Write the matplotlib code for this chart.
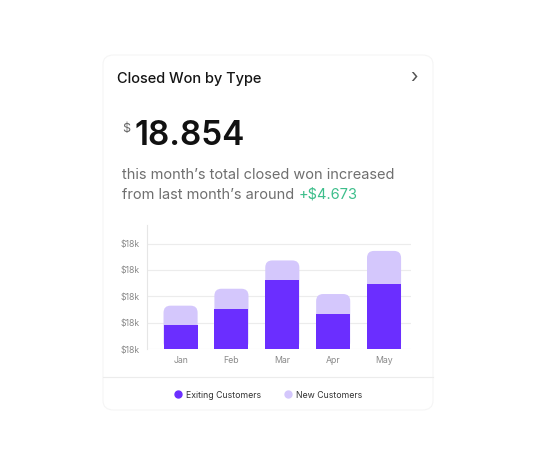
import matplotlib.pyplot as plt
from matplotlib.patches import FancyBboxPatch
from matplotlib.lines import Line2D

plt.rcParams['font.family'] = ['Inter', 'DejaVu Sans']

# data (stacked in grid units)
months = ['Jan', 'Feb', 'Mar', 'Apr', 'May']
existing = [0.91, 1.52, 2.62, 1.35, 2.46]
new = [0.74, 0.77, 0.74, 0.74, 1.26]
ytick_vals = [0, 1, 2, 3, 4]
ytick_labels = ['$18k', '$18k', '$18k', '$18k', '$18k']

DARK = '#6B2EFF'
LIGHT = '#D4C7FC'
W, H = 535, 466

fig = plt.figure(figsize=(W / 100, H / 100), dpi=100)
fig.patch.set_facecolor('white')


def fx(px):
    return px / W


def fy(py):
    return 1 - py / H


# card
card = FancyBboxPatch((fx(103), fy(410)), fx(433) - fx(103), fy(55) - fy(410),
                      boxstyle='round,pad=0,rounding_size=0.02',
                      transform=fig.transFigure, facecolor='white',
                      edgecolor='#f5f5f5', linewidth=0.8, zorder=-10)
fig.patches.append(card)
fig.add_artist(Line2D([fx(103), fx(433)], [fy(377), fy(377)],
                      transform=fig.transFigure, color='#ececec', lw=0.8, zorder=-5))

fig.text(fx(117), fy(79), 'Closed Won by Type', fontsize=10.5, fontweight='medium',
         color='#151515', va='center', ha='left')
fig.text(fx(414), fy(78), '\u203a', fontsize=14, color='#555555', va='center', ha='center')
fig.text(fx(122), fy(129), '$', fontsize=9, color='#666666', va='center', ha='left')
fig.text(fx(135), fy(136), '18.854', fontsize=24, fontweight='semibold',
         color='#111111', va='center', ha='left')
fig.text(fx(122), fy(175), 'this month\u2019s total closed won increased',
         fontsize=10.5, color='#6f6f6f', va='center', ha='left')
t = fig.text(fx(122), fy(195), 'from last month\u2019s around ',
             fontsize=10.5, color='#6f6f6f', va='center', ha='left')
fig.canvas.draw()
bb = t.get_window_extent()
fig.text(bb.x1 / W, fy(195), '+$4.673', fontsize=10.5, color='#3DBE8B',
         va='center', ha='left')

# chart
ax = fig.add_axes([fx(147), fy(349.3), fx(411) - fx(147), fy(225) - fy(349.3)])
ax.patch.set_alpha(0)
x = list(range(len(months)))
totals = [e + n for e, n in zip(existing, new)]
ax.set_xlim(-0.66, 4.53)
ax.set_ylim(0, 4.7)

light = ax.bar(x, totals, width=0.67, color=LIGHT, zorder=2)
ax.bar(x, existing, width=0.67, color=DARK, zorder=3)

# round the top corners of the light bars
px_x = ax.bbox.width / (4.53 + 0.66)
px_y = ax.bbox.height / 4.7
r = 7 / px_x
for rect in light.patches:
    rect.set_visible(False)
    fb = FancyBboxPatch((rect.get_x(), rect.get_y()), rect.get_width(), rect.get_height(),
                        boxstyle=f'round,pad=0,rounding_size={r}',
                        mutation_aspect=px_x / px_y,
                        facecolor=LIGHT, edgecolor='none', zorder=2)
    ax.add_patch(fb)

ax.set_yticks(ytick_vals)
ax.set_yticklabels(ytick_labels)
ax.set_xticks(x)
ax.set_xticklabels(months)
ax.tick_params(axis='both', length=0, labelsize=6.3, colors='#8a8a8a')
ax.tick_params(axis='y', pad=5)
ax.tick_params(axis='x', pad=5)
ax.grid(axis='y', color='#ececec', lw=0.8, zorder=0)
for s in ['top', 'right', 'bottom']:
    ax.spines[s].set_visible(False)
ax.spines['left'].set_color('#e6e6e6')
ax.spines['left'].set_linewidth(0.8)

handles = [Line2D([], [], marker='o', ls='', color=DARK, markersize=5),
           Line2D([], [], marker='o', ls='', color=LIGHT, markersize=5)]
fig.legend(handles, ['Exiting Customers', 'New Customers'], loc='center',
           bbox_to_anchor=(fx(268), fy(395)), ncol=2, frameon=False,
           fontsize=6.3, labelcolor='#333333', handletextpad=0.5,
           columnspacing=2.5, handlelength=1)

fig.savefig('out.png', dpi=100)
